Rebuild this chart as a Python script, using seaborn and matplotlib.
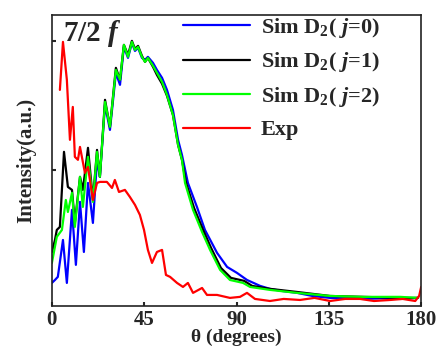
import numpy as np
import matplotlib
matplotlib.use('Agg')
import matplotlib.pyplot as plt
import seaborn as sns

# Sim D2 (j=0), blue
theta_j0 = [0, 1.5, 2.9, 5.4, 7.3, 9.8, 11.7, 13.7, 15.6, 17.6, 20.0, 22.0, 23.4, 25.9, 28.3,
            31.2, 33.2, 35.1, 37.1, 39.0, 40.5, 42.0, 43.9, 45.4, 46.8, 49.3, 51.2, 53.7, 56.1,
            59.0, 61.5, 63.4, 66.3, 70.7, 74.6, 80.5, 85.4, 90.2, 95.1, 101.5, 106.3, 112.0,
            119.5, 127.0, 135.6, 143.0, 151.7, 160.0, 169.8, 178.5]
int_j0 = [0.124, 0.147, 0.171, 0.457, 0.124, 0.690, 0.264, 0.752, 0.364, 0.899, 0.589, 1.078,
          0.946, 1.504, 1.310, 1.752, 1.659, 1.953, 1.868, 1.984, 1.922, 1.946, 1.868, 1.853,
          1.876, 1.829, 1.775, 1.713, 1.620, 1.465, 1.233, 1.116, 0.899, 0.713, 0.535, 0.357,
          0.248, 0.202, 0.147, 0.101, 0.078, 0.062, 0.047, 0.023, 0.008, 0.004, 0.0, 0.004,
          0.0, 0.008]

# Sim D2 (j=1), black
theta_j1 = [0, 1.5, 2.4, 3.9, 5.9, 7.8, 9.8, 11.2, 13.7, 15.1, 17.6, 20.0, 22.0, 23.4, 25.9,
            28.3, 31.2, 33.2, 35.1, 37.1, 39.0, 40.5, 42.0, 43.9, 45.4, 46.8, 49.3, 51.2, 53.7,
            56.1, 59.0, 61.5, 63.4, 65.4, 69.3, 73.7, 77.6, 82.4, 87.3, 93.7, 97.6, 106.3,
            119.5, 135.6, 151.7, 169.8, 178.5]
int_j1 = [0.364, 0.457, 0.535, 0.558, 1.140, 0.868, 0.845, 0.589, 0.946, 0.845, 1.171, 0.767,
          1.155, 0.946, 1.543, 1.333, 1.791, 1.698, 1.969, 1.891, 2.0, 1.938, 1.961, 1.884,
          1.837, 1.868, 1.798, 1.736, 1.667, 1.574, 1.426, 1.194, 1.078, 0.899, 0.705, 0.535,
          0.395, 0.240, 0.163, 0.140, 0.101, 0.078, 0.054, 0.023, 0.016, 0.008, 0.008]

# Sim D2 (j=2), green
theta_j2 = [0, 2.4, 4.9, 6.8, 7.8, 9.8, 11.2, 13.7, 15.1, 17.6, 20.0, 22.0, 23.4, 25.9, 28.3,
            31.2, 33.2, 35.1, 37.1, 39.0, 40.5, 42.0, 43.9, 45.4, 46.8, 49.3, 51.2, 53.7, 56.1,
            59.0, 61.5, 63.4, 64.9, 68.8, 73.2, 77.1, 82.0, 86.8, 93.2, 96.6, 106.3, 119.5,
            135.6, 151.7, 169.8, 178.5]
int_j2 = [0.279, 0.481, 0.535, 0.767, 0.674, 0.822, 0.558, 0.946, 0.713, 1.101, 0.752, 1.140,
          0.946, 1.527, 1.333, 1.775, 1.698, 1.969, 1.876, 1.992, 1.930, 1.953, 1.876, 1.837,
          1.868, 1.806, 1.752, 1.682, 1.581, 1.426, 1.194, 1.078, 0.899, 0.690, 0.519, 0.380,
          0.225, 0.147, 0.124, 0.093, 0.070, 0.047, 0.023, 0.016, 0.016, 0.008]

# Experiment, red
theta_exp = [3.9, 5.4, 7.3, 8.8, 10.2, 11.2, 12.7, 13.7, 16.1, 17.6, 20.0, 22.0, 23.4, 26.8,
             29.3, 30.7, 32.7, 35.6, 38.0, 40.5, 42.9, 44.9, 46.8, 48.8, 51.2, 53.7, 55.6,
             57.6, 61.0, 63.9, 66.3, 68.8, 73.2, 75.6, 80.5, 86.8, 91.7, 95.1, 99.0, 106.3,
             113.0, 120.9, 128.0, 135.6, 143.0, 150.2, 157.0, 164.9, 171.0, 177.1, 179.0, 180.0]
int_exp = [1.620, 1.992, 1.698, 1.233, 1.488, 1.101, 1.078, 1.178, 0.977, 1.023, 0.767, 0.899,
           0.907, 0.907, 0.860, 0.922, 0.829, 0.845, 0.791, 0.729, 0.651, 0.535, 0.380, 0.279,
           0.364, 0.380, 0.186, 0.171, 0.124, 0.093, 0.124, 0.047, 0.085, 0.031, 0.031, 0.008,
           0.016, 0.047, 0.0, -0.016, 0.0, -0.008, 0.008, -0.016, 0.0, 0.0, -0.016, -0.008,
           0.0, -0.016, 0.023, 0.093]

sns.set_style('ticks')
plt.rcParams['font.family'] = ['Liberation Serif', 'DejaVu Serif']
plt.rcParams['font.weight'] = 'bold'
plt.rcParams['mathtext.fontset'] = 'custom'
plt.rcParams['mathtext.rm'] = 'Liberation Serif:bold'
plt.rcParams['mathtext.bf'] = 'Liberation Serif:bold'
plt.rcParams['mathtext.it'] = 'Liberation Serif:italic:bold'

fig = plt.figure(figsize=(4.36, 3.5), dpi=100)
ax = fig.add_axes([0.119, 0.126, 0.847, 0.831])

lw = 1.6
sns.lineplot(x=theta_j0, y=int_j0, ax=ax, color='#0000FF', lw=lw, label=r'Sim D$_2$( $j$=0)')
sns.lineplot(x=theta_j1, y=int_j1, ax=ax, color='black', lw=lw, label=r'Sim D$_2$( $j$=1)')
sns.lineplot(x=theta_j2, y=int_j2, ax=ax, color='#00FF00', lw=lw, label=r'Sim D$_2$( $j$=2)')
sns.lineplot(x=theta_exp, y=int_exp, ax=ax, color='#FF0000', lw=lw, label='Exp')

ax.set_xlim(0, 180)
ax.set_ylim(-0.054, 2.2)
ax.set_xticks([0, 45, 90, 135, 180])
ax.set_yticks([1, 2])
ax.set_yticklabels([])
ax.tick_params(direction='in', length=3, width=1.5, labelsize=15)
ax.tick_params(axis='x', pad=3)
for s in ax.spines.values():
    s.set_linewidth(1.2)
    s.set_color('#222222')

ax.set_xlabel(u'\u03b8 (degrees)', fontsize=14, fontweight='bold', labelpad=-1)
ax.set_ylabel('Intensity(a.u.)', fontsize=15, fontweight='bold', labelpad=8)
ax.text(0.03, 0.99, r'7/2 $f$', transform=ax.transAxes, fontsize=21, fontweight='bold',
        va='top', ha='left')

ax.legend(loc='upper left', bbox_to_anchor=(0.42, 0.955), bbox_transform=fig.transFigure,
          frameon=False, fontsize=16, handlelength=3.0, handletextpad=0.5,
          labelspacing=0.48, borderpad=0, borderaxespad=0)

plt.savefig('out.png', dpi=100)
plt.close()
